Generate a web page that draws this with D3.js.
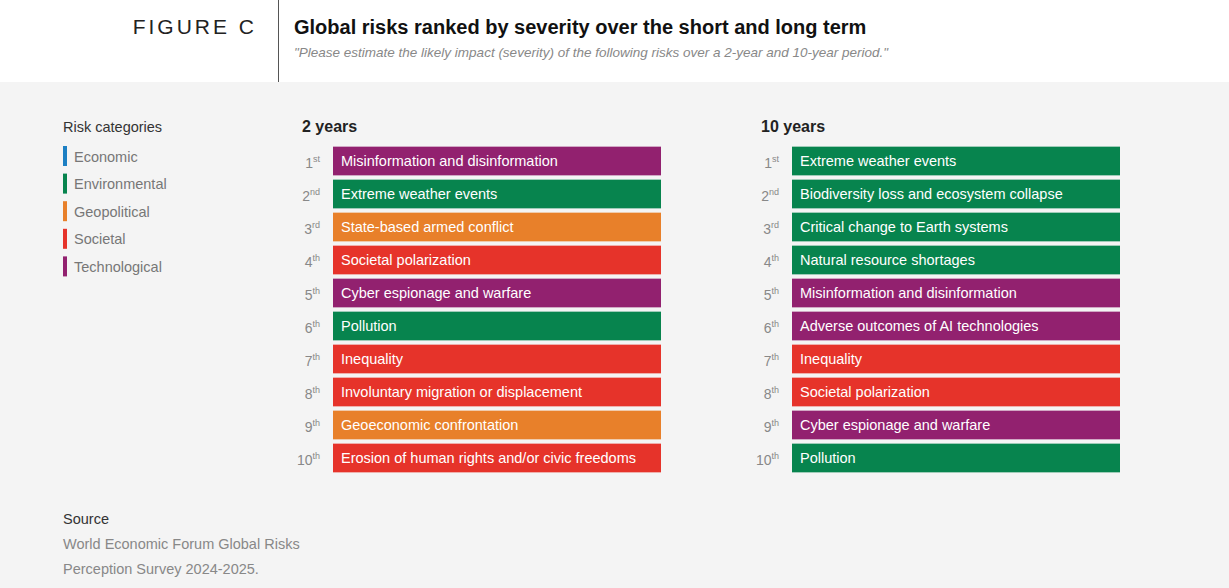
<!DOCTYPE html>
<html><head><meta charset="utf-8">
<script src="https://cdn.jsdelivr.net/npm/d3@7"></script>
<style>body{margin:0;background:#f4f4f4}svg{display:block;font-family:"Liberation Sans",Arial,sans-serif}</style>
</head><body><svg width="1229" height="588"></svg>
<script>
var categories = ["Economic","Environmental","Geopolitical","Societal","Technological"];
var catColors = ["#1c7fc3","#07844e","#e8802a","#e6332a","#92216f"];
var ranks = ["1","2","3","4","5","6","7","8","9","10"];
var suffixes = ["st","nd","rd","th","th","th","th","th","th","th"];
var risks2 = ["Misinformation and disinformation","Extreme weather events","State-based armed conflict","Societal polarization","Cyber espionage and warfare","Pollution","Inequality","Involuntary migration or displacement","Geoeconomic confrontation","Erosion of human rights and/or civic freedoms"];
var cats2 = ["Technological","Environmental","Geopolitical","Societal","Technological","Environmental","Societal","Societal","Geopolitical","Societal"];
var risks10 = ["Extreme weather events","Biodiversity loss and ecosystem collapse","Critical change to Earth systems","Natural resource shortages","Misinformation and disinformation","Adverse outcomes of AI technologies","Inequality","Societal polarization","Cyber espionage and warfare","Pollution"];
var cats10 = ["Environmental","Environmental","Environmental","Environmental","Technological","Technological","Societal","Societal","Technological","Environmental"];

var svg = d3.select("svg");
var color = d3.scaleOrdinal().domain(categories).range(catColors);

// header
svg.append("rect").attr("width",1229).attr("height",82).attr("fill","#fff");
svg.append("line").attr("x1",278.5).attr("x2",278.5).attr("y1",0).attr("y2",82).attr("stroke","#555");
svg.append("text").attr("x",257).attr("y",34).attr("text-anchor","end").attr("font-size",21).attr("letter-spacing",3).attr("fill","#222").text("FIGURE C");
svg.append("text").attr("x",294).attr("y",34).attr("font-size",20).attr("font-weight","bold").attr("fill","#111").text("Global risks ranked by severity over the short and long term");
svg.append("text").attr("x",294).attr("y",57).attr("font-size",13.5).attr("font-style","italic").attr("fill","#888").text("\"Please estimate the likely impact (severity) of the following risks over a 2-year and 10-year period.\"");

// legend
svg.append("text").attr("x",63).attr("y",132).attr("font-size",14.5).attr("fill","#333").text("Risk categories");
var ly = d3.scaleBand().domain(categories).range([146,284]);
var lg = svg.selectAll(".lg").data(categories).enter().append("g").attr("transform",function(d){return "translate(63,"+ly(d)+")";});
lg.append("rect").attr("width",4).attr("height",20).attr("fill",function(d){return color(d);});
lg.append("text").attr("x",11).attr("y",15.5).attr("font-size",14.5).attr("fill","#777").text(function(d){return d;});

// ranked columns
var y = d3.scaleBand().domain(ranks).range([145,474]).paddingInner(0.13).paddingOuter(0.05);
function column(x0, title, risks, cats){
  var x = d3.scaleLinear().domain([0,1]).range([x0, x0+328]);
  svg.append("text").attr("x",x0-31).attr("y",132).attr("font-size",16).attr("font-weight","bold").attr("fill","#222").text(title);
  var g = svg.append("g").selectAll("g").data(risks).enter().append("g")
    .attr("transform",function(d,i){return "translate(0,"+y(ranks[i])+")";});
  g.append("rect").attr("x",x(0)).attr("width",x(1)-x(0)).attr("height",y.bandwidth())
    .attr("fill",function(d,i){return color(cats[i]);});
  g.append("text").attr("x",x(0)+8).attr("y",y.bandwidth()/2+5).attr("font-size",14.5).attr("fill","#fff").text(function(d){return d;});
  var r = g.append("text").attr("x",x0-13).attr("y",y.bandwidth()/2+7).attr("text-anchor","end").attr("fill","#888").attr("font-size",14);
  r.append("tspan").text(function(d,i){return ranks[i];});
  r.append("tspan").attr("font-size",9).attr("dy",-6).text(function(d,i){return suffixes[i];});
}
column(333,"2 years",risks2,cats2);
column(792,"10 years",risks10,cats10);

// source
svg.append("text").attr("x",63).attr("y",524).attr("font-size",14.5).attr("fill","#333").text("Source");
svg.append("text").attr("x",63).attr("y",549).attr("font-size",14.5).attr("fill","#888").text("World Economic Forum Global Risks");
svg.append("text").attr("x",63).attr("y",574).attr("font-size",14.5).attr("fill","#888").text("Perception Survey 2024-2025.");
</script></body></html>
